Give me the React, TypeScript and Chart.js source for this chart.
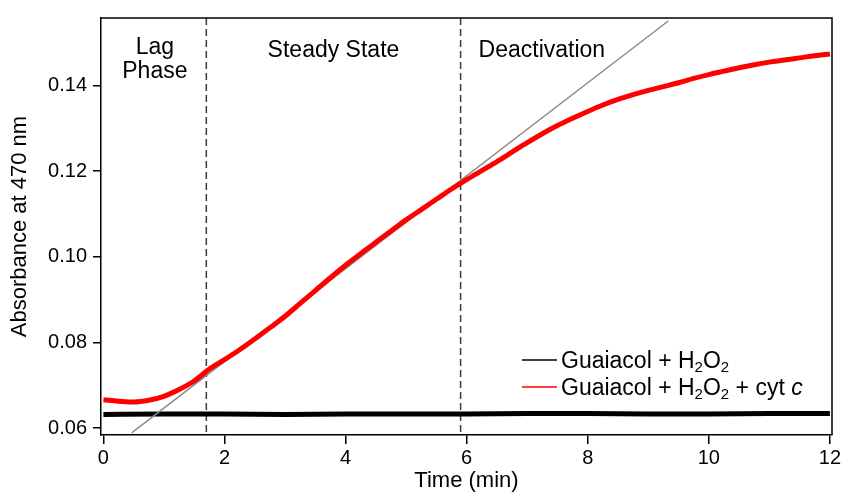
import React, { useEffect, useRef } from 'react';
import { Chart, registerables } from 'chart.js';

Chart.register(...registerables);

// ---------- data ----------
const xTicks = [0, 2, 4, 6, 8, 10, 12];
const yTicks = [0.06, 0.08, 0.1, 0.12, 0.14];

const redTime = [
  0, 0.25, 0.5, 0.75, 1, 1.25, 1.5, 1.75, 2, 2.25, 2.5, 2.75, 3, 3.25, 3.5, 3.75,
  4, 4.25, 4.5, 4.75, 5, 5.25, 5.5, 5.75, 6, 6.25, 6.5, 6.75, 7, 7.25, 7.5, 7.75,
  8, 8.25, 8.5, 8.75, 9, 9.25, 9.5, 9.75, 10, 10.25, 10.5, 10.75, 11, 11.25, 11.5, 11.75, 12,
];
const redAbs = [
  0.0666, 0.0663, 0.0661, 0.0665, 0.0674, 0.069, 0.071, 0.0738, 0.076, 0.0783, 0.0808, 0.0834,
  0.0861, 0.0891, 0.0921, 0.0951, 0.098, 0.1007, 0.1034, 0.106, 0.1086, 0.111, 0.1134, 0.1158,
  0.118, 0.1201, 0.1222, 0.1244, 0.1266, 0.1287, 0.1306, 0.1323, 0.1339, 0.1354, 0.1367, 0.1378,
  0.1388, 0.1397, 0.1406, 0.1416, 0.1425, 0.1433, 0.1441, 0.1448, 0.1454, 0.1459, 0.1464, 0.1469, 0.1473,
];

const blackTime = [0, 1, 2, 3, 4, 5, 6, 7, 8, 9, 10, 11, 12];
const blackAbs = [0.0632, 0.0633, 0.0633, 0.0632, 0.0633, 0.0633, 0.0633, 0.0634, 0.0634, 0.0633, 0.0633, 0.0634, 0.0634];

const fitTime = [0.466, 9.33];
const fitAbs = [0.0589, 0.155];

const phaseBounds = [1.7, 5.9];
const phaseLabels = [['Lag', 'Phase'], ['Steady State'], ['Deactivation']];

type Part = { t: string; sub?: boolean; it?: boolean };
const seriesNames = ['Guaiacol + H₂O₂', 'Guaiacol + H₂O₂ + cyt c'];
const legendParts: Part[][] = [
  [{ t: 'Guaiacol + H' }, { t: '2', sub: true }, { t: 'O' }, { t: '2', sub: true }],
  [{ t: 'Guaiacol + H' }, { t: '2', sub: true }, { t: 'O' }, { t: '2', sub: true }, { t: ' + cyt ' }, { t: 'c', it: true }],
];
const seriesColors = ['#000000', '#ff0000'];

// ---------- styling ----------
const FONT = '"Liberation Sans", Arial, Helvetica, sans-serif';

function drawRich(ctx: CanvasRenderingContext2D, x: number, y: number, parts: Part[]) {
  let cx = x;
  for (const p of parts) {
    const size = p.sub ? 15 : 23;
    ctx.font = `${p.it ? 'italic ' : ''}${size}px ${FONT}`;
    ctx.fillText(p.t, cx, p.sub ? y + 4 : y);
    cx += ctx.measureText(p.t).width;
  }
}

const overlay = {
  id: 'overlay',
  beforeDatasetsDraw(chart: any) {
    const { ctx, chartArea: ca, scales } = chart;
    const x = scales.x;
    ctx.save();
    ctx.strokeStyle = '#3a3a3a';
    ctx.lineWidth = 1.5;
    ctx.setLineDash([7, 4]);
    phaseBounds.forEach((b) => {
      const px = x.getPixelForValue(b);
      ctx.beginPath();
      ctx.moveTo(px, ca.top);
      ctx.lineTo(px, ca.bottom);
      ctx.stroke();
    });
    ctx.restore();
  },
  afterDraw(chart: any) {
    const { ctx, chartArea: ca, scales } = chart;
    const x = scales.x;
    ctx.save();
    // frame top & right
    ctx.strokeStyle = '#000';
    ctx.lineWidth = 1.5;
    ctx.beginPath();
    ctx.moveTo(ca.left, ca.top);
    ctx.lineTo(ca.right, ca.top);
    ctx.lineTo(ca.right, ca.bottom);
    ctx.stroke();

    // phase labels
    ctx.fillStyle = '#000';
    ctx.font = `23px ${FONT}`;
    ctx.textBaseline = 'alphabetic';
    ctx.textAlign = 'center';
    const lagX = x.getPixelForValue((0 + phaseBounds[0]) / 2);
    phaseLabels[0].forEach((line, i) => ctx.fillText(line, lagX, ca.top + 36.3 + i * 24));
    const ssX = x.getPixelForValue((phaseBounds[0] + phaseBounds[1]) / 2);
    ctx.fillText(phaseLabels[1][0], ssX, ca.top + 39.3);
    ctx.textAlign = 'left';
    ctx.fillText(phaseLabels[2][0], x.getPixelForValue(phaseBounds[1]) + 18, ca.top + 39.3);

    // legend
    const lx0 = ca.left + 421;
    const lx1 = ca.left + 456;
    const tx = ca.left + 460;
    const rows = [Math.round(ca.top + 342), Math.round(ca.top + 368.7)];
    legendParts.forEach((parts, i) => {
      ctx.strokeStyle = seriesColors[i];
      ctx.lineWidth = 1.5;
      ctx.beginPath();
      ctx.moveTo(lx0, rows[i]);
      ctx.lineTo(lx1, rows[i]);
      ctx.stroke();
      ctx.fillStyle = '#000';
      drawRich(ctx, tx, rows[i] + 8.3, parts);
    });
    ctx.restore();
  },
};

export default function App() {
  const ref = useRef<HTMLCanvasElement>(null);
  useEffect(() => {
    if (!ref.current) return;
    Chart.defaults.font.family = FONT;
    Chart.defaults.color = '#000';
    const chart = new Chart(ref.current, {
      type: 'line',
      data: {
        datasets: [
          {
            label: seriesNames[1],
            data: redTime.map((t, i) => ({ x: t, y: redAbs[i] })),
            borderColor: seriesColors[1],
            borderWidth: 5,
            pointRadius: 0,
            cubicInterpolationMode: 'monotone',
            order: 0,
          },
          {
            label: 'fit',
            data: fitTime.map((t, i) => ({ x: t, y: fitAbs[i] })),
            borderColor: '#8a8a8a',
            borderWidth: 1.5,
            pointRadius: 0,
            order: 1,
          },
          {
            label: seriesNames[0],
            data: blackTime.map((t, i) => ({ x: t, y: blackAbs[i] })),
            borderColor: seriesColors[0],
            borderWidth: 5,
            pointRadius: 0,
            cubicInterpolationMode: 'monotone',
            order: 2,
          },
        ],
      },
      options: {
        animation: false,
        responsive: false,
        devicePixelRatio: 1,
        layout: { padding: { top: 13, right: 14, left: 0, bottom: 0 } },
        plugins: { legend: { display: false }, tooltip: { enabled: false } },
        scales: {
          x: {
            type: 'linear',
            min: -0.04,
            max: 12.035,
            afterBuildTicks: (s: any) => {
              s.ticks = xTicks.map((v) => ({ value: v }));
            },
            afterFit: (s: any) => {
              s.height = 65;
            },
            ticks: { font: { size: 20 }, padding: 2, color: '#000', maxRotation: 0 },
            grid: { drawOnChartArea: false, drawTicks: true, tickLength: 9, color: '#000', lineWidth: 1.5 },
            border: { display: true, color: '#000', width: 1.5 },
            title: { display: true, text: 'Time (min)', font: { size: 22 }, color: '#000', padding: { top: 0, bottom: 6.3 } },
          },
          y: {
            type: 'linear',
            min: 0.0584,
            max: 0.1557,
            afterBuildTicks: (s: any) => {
              s.ticks = yTicks.map((v) => ({ value: v }));
            },
            afterFit: (s: any) => {
              s.width = 101;
            },
            ticks: { font: { size: 20 }, padding: 6, color: '#000', callback: (v: any) => Number(v).toFixed(2) },
            grid: { drawOnChartArea: false, drawTicks: true, tickLength: 8, color: '#000', lineWidth: 1.5 },
            border: { display: true, color: '#000', width: 1.5 },
            title: { display: true, text: 'Absorbance at 470 nm', font: { size: 22 }, color: '#000', padding: { top: 7, bottom: 0 } },
          },
        },
      },
      plugins: [overlay],
    } as any);
    return () => chart.destroy();
  }, []);
  return (
    <div style={{ position: 'absolute', left: 0, top: 0, width: 846, height: 500, background: '#fff' }}>
      <canvas ref={ref} width={846} height={500} style={{ display: 'block' }} />
    </div>
  );
}
